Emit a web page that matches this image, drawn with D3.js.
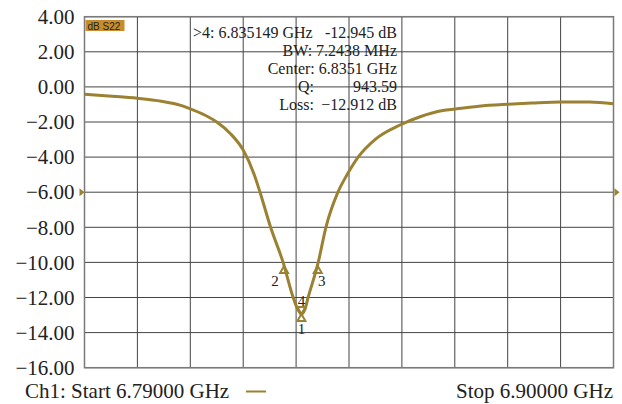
<!DOCTYPE html>
<html>
<head>
<meta charset="utf-8">
<script src="https://cdn.jsdelivr.net/npm/d3@7"></script>
<style>
  body { margin: 0; background: #fff; }
  text { font-family: "Liberation Serif", "Times New Roman", serif; fill: #222; }
</style>
</head>
<body>
<div id="graph"></div>
<script>
// trace data (GHz, dB)
var freq = [6.790, 6.795, 6.801, 6.806, 6.810, 6.812, 6.815, 6.8175, 6.8203, 6.8230, 6.8253,
            6.8265, 6.8287, 6.8313, 6.8334, 6.8343, 6.8351, 6.8358, 6.8365, 6.8386, 6.8402,
            6.8427, 6.8446, 6.8469, 6.8504, 6.8556, 6.8598, 6.8645, 6.867, 6.872, 6.878,
            6.883, 6.889, 6.895, 6.900];
var s22 = [-0.42, -0.52, -0.65, -0.82, -1.05, -1.25, -1.60, -2.00, -2.65, -3.60, -5.00,
           -6.00, -8.00, -10.00, -12.00, -12.65, -12.945, -12.70, -12.00, -10.00, -8.00,
           -6.00, -5.00, -4.00, -3.00, -2.17, -1.70, -1.35, -1.26, -1.10, -0.99,
           -0.92, -0.86, -0.86, -0.96];
var yTicks = [4, 2, 0, -2, -4, -6, -8, -10, -12, -14, -16];

// markers: id, frequency, dB, triangle direction, label offset
var markers = [
  {id: "2", f: 6.8315, v: -10.2, up: true, dx: -9, dy: 15},
  {id: "3", f: 6.8385, v: -10.2, up: true, dx: 4, dy: 15},
  {id: "4", f: 6.8351, v: -12.945, up: false, dx: 0, dy: -13},
  {id: "1", f: 6.8351, v: -12.945, up: true, dx: 0, dy: 15}
];

var readout = [
  [">4: 6.835149 GHz", "-12.945 dB"],
  ["BW: 7.2438 MHz", ""],
  ["Center: 6.8351 GHz", ""],
  ["Q:", "943.59"],
  ["Loss:", "\u221212.912 dB"]
];

var W = 622, H = 404;
var pL = 84.5, pR = 613.5, pT = 16.7, pB = 367.7;
var col = "#9b8132";

var vis = d3.select('#graph').append('svg')
  .attr("width", W).attr("height", H);

var x = d3.scaleLinear().domain([6.79, 6.90]).range([pL, pR]);
var y = d3.scaleLinear().domain([-16, 4]).range([pB, pT]);

// grid
var xGrid = d3.range(11).map(function(i) { return 6.79 + i * 0.011; });
vis.selectAll(".vgrid").data(xGrid).enter().append("line")
  .attr("x1", function(d) { return x(d); }).attr("x2", function(d) { return x(d); })
  .attr("y1", pT).attr("y2", pB)
  .style("stroke", "#444").style("stroke-width", 1);
vis.selectAll(".hgrid").data(yTicks).enter().append("line")
  .attr("x1", pL).attr("x2", pR)
  .attr("y1", function(d) { return y(d); }).attr("y2", function(d) { return y(d); })
  .style("stroke", "#444").style("stroke-width", 1);
vis.append("rect")
  .attr("x", pL).attr("y", pT).attr("width", pR - pL).attr("height", pB - pT)
  .style("fill", "none").style("stroke", "#7a7a7a").style("stroke-width", 1.5);

// y axis labels
var yAxis = d3.axisLeft(y).tickValues(yTicks).tickSize(0).tickPadding(10)
  .tickFormat(function(d) { return d3.format(".2f")(d).replace("-", "\u2212"); });
var ga = vis.append("g").attr("transform", "translate(" + pL + ",0)").call(yAxis);
ga.select(".domain").remove();
ga.selectAll("text").style("font-family", "Liberation Serif").style("font-size", "21px").attr("fill", "#222");

// reference level triangles
[pL - 5, pR + 1].forEach(function(px) {
  vis.append("path")
    .attr("d", "M" + px + "," + (y(-6) - 4) + "L" + (px + 5) + "," + y(-6) + "L" + px + "," + (y(-6) + 4) + "Z")
    .style("fill", col);
});

// title tag
vis.append("rect").attr("x", pL + 1).attr("y", 20).attr("width", 39).attr("height", 11)
  .style("fill", "#c98c2c");
vis.append("text").attr("x", pL + 3).attr("y", 29.5).text("dB S22")
  .style("font-family", "Liberation Sans").style("font-size", "10px").attr("fill", "#222");

// trace
var pts = freq.map(function(f, i) { return [f, s22[i]]; });
var line = d3.line().x(function(d) { return x(d[0]); }).y(function(d) { return y(d[1]); })
  .curve(d3.curveMonotoneX);
vis.append("path").datum(pts).attr("d", line)
  .style("fill", "none").style("stroke", col).style("stroke-width", 3);

// markers
markers.forEach(function(m) {
  var px = x(m.f), py = y(m.v);
  var d = m.up
    ? "M" + px + "," + py + "L" + (px - 4) + "," + (py + 7) + "L" + (px + 4) + "," + (py + 7) + "Z"
    : "M" + px + "," + py + "L" + (px - 4) + "," + (py - 7) + "L" + (px + 4) + "," + (py - 7) + "Z";
  vis.append("path").attr("d", d)
    .style("fill", "none").style("stroke", col).style("stroke-width", 2);
  vis.append("text").attr("x", px + m.dx).attr("y", py + m.dy)
    .attr("text-anchor", "middle").attr("dominant-baseline", "central")
    .style("font-size", "15px").text(m.id);
});

// marker readout
readout.forEach(function(r, i) {
  var ty = 37.5 + i * 18.2;
  if (i === 0) {
    vis.append("text").attr("x", 193).attr("y", ty).style("font-size", "16px").text(r[0]);
    vis.append("text").attr("x", 397).attr("y", ty).attr("text-anchor", "end").style("font-size", "16px").text(r[1]);
  } else if (r[1] === "") {
    vis.append("text").attr("x", 397).attr("y", ty).attr("text-anchor", "end").style("font-size", "16px").text(r[0]);
  } else {
    vis.append("text").attr("x", 314).attr("y", ty).attr("text-anchor", "end").style("font-size", "16px").text(r[0]);
    vis.append("text").attr("x", 397).attr("y", ty).attr("text-anchor", "end").style("font-size", "16px").text(r[1]);
  }
});

// footer
vis.append("text").attr("x", 25).attr("y", 398).style("font-size", "21px").text("Ch1: Start 6.79000 GHz");
vis.append("line").attr("x1", 246).attr("x2", 266).attr("y1", 391.5).attr("y2", 391.5)
  .style("stroke", col).style("stroke-width", 2);
vis.append("text").attr("x", 613).attr("y", 398).attr("text-anchor", "end").style("font-size", "21px").text("Stop 6.90000 GHz");
</script>
</body>
</html>
